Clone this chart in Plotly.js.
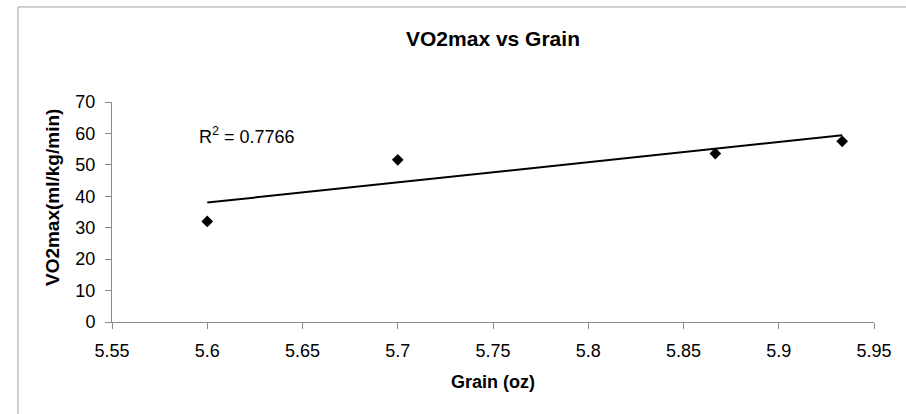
<!DOCTYPE html>
<html>
<head>
<meta charset="utf-8">
<script src="https://cdn.plot.ly/plotly-3.0.1.min.js"></script>
<style>html,body{margin:0;padding:0;background:#fff;}#chart{width:906px;height:414px;}</style>
</head>
<body>
<div id="chart"></div>
<script>
// Data
const grain = [5.6, 5.7, 5.8667, 5.9333];
const vo2max = [32, 51.6, 53.6, 57.5];
// Linear trendline endpoints as drawn in the reference
const trendX = [5.6, 5.9333];
const trendY = [38.0, 59.4];
const xTicks = [5.55, 5.6, 5.65, 5.7, 5.75, 5.8, 5.85, 5.9, 5.95];
const xTickText = ["5.55", "5.6", "5.65", "5.7", "5.75", "5.8", "5.85", "5.9", "5.95"];
const yTicks = [0, 10, 20, 30, 40, 50, 60, 70];
const r2Text = "R<sup>2</sup> = 0.7766";
const yTitle = "<b>VO2max(ml/kg/min)</b>";

const font = "Liberation Sans, Arial, sans-serif";
const axisColor = "#8a8a8a";

const traces = [
  {
    x: grain, y: vo2max, type: "scatter", mode: "markers",
    marker: {symbol: "diamond", size: 9, color: "#000"},
    hoverinfo: "skip", showlegend: false
  },
  {
    x: trendX, y: trendY, type: "scatter", mode: "lines",
    line: {color: "#000", width: 2},
    hoverinfo: "skip", showlegend: false
  }
];

const layout = {
  width: 906, height: 414,
  margin: {l: 112, r: 32, t: 102, b: 92, pad: 0},
  paper_bgcolor: "#fff", plot_bgcolor: "#fff",
  font: {family: font, size: 18, color: "#000"},
  showlegend: false,
  title: {
    text: "<b>VO2max vs Grain</b>",
    font: {family: font, size: 21, color: "#000"},
    x: 0.5, xref: "paper", xanchor: "center",
    y: 0.906, yref: "container", yanchor: "middle"
  },
  xaxis: {
    range: [5.55, 5.95], tickvals: xTicks, ticktext: xTickText,
    showgrid: false, zeroline: false, showline: true, linecolor: axisColor, linewidth: 1,
    ticks: "outside", ticklen: 6, tickcolor: axisColor, tickwidth: 1,
    ticklabelstandoff: 6,
    tickfont: {family: font, size: 18, color: "#000"},
    title: {text: "<b>Grain (oz)</b>", font: {family: font, size: 18, color: "#000"}, standoff: 15}
  },
  yaxis: {
    range: [0, 70], tickvals: yTicks,
    showgrid: false, zeroline: false, showline: true, linecolor: axisColor, linewidth: 1,
    ticks: "outside", ticklen: 6, tickcolor: axisColor, tickwidth: 1,
    ticklabelstandoff: 6,
    tickfont: {family: font, size: 18, color: "#000"}
  },
  annotations: [
    {
      text: r2Text, xref: "paper", yref: "paper", x: 0.111, y: 0.849,
      xanchor: "left", yanchor: "middle", showarrow: false,
      font: {family: font, size: 18, color: "#000"}
    },
    {
      text: yTitle, xref: "paper", yref: "paper", x: -0.0787, y: 0.5636,
      xanchor: "center", yanchor: "middle", textangle: -90, showarrow: false,
      font: {family: font, size: 19, color: "#000"}
    }
  ],
  shapes: [{
    type: "rect", xref: "paper", yref: "paper",
    x0: -0.1234, x1: 1.06, y0: -0.46, y1: 1.432,
    line: {color: "#a0a0a0", width: 1}, fillcolor: "rgba(0,0,0,0)", layer: "below"
  }]
};

Plotly.newPlot("chart", traces, layout, {staticPlot: true, displayModeBar: false});
</script>
</body>
</html>
